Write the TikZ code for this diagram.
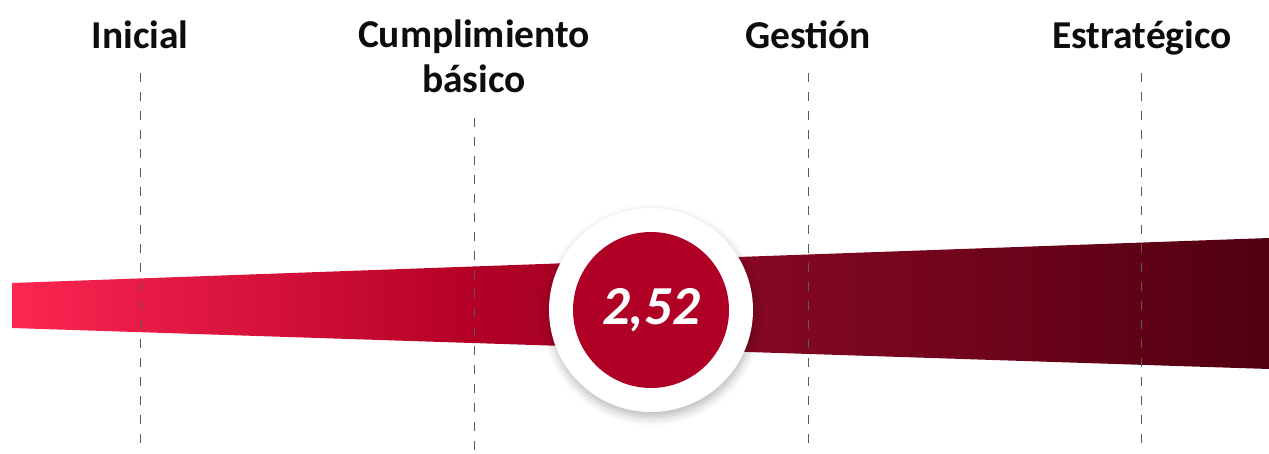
\documentclass[tikz,border=0pt]{standalone}
\usepackage{fontspec}
\setmainfont{Carlito}
\usetikzlibrary{shadows.blur}
\definecolor{valred}{RGB}{177,0,38}
\definecolor{dashgray}{RGB}{90,90,90}
\pgfdeclarehorizontalshading{bandshade}{100bp}{rgb(0bp)=(0.988,0.149,0.322); rgb(25bp)=(0.988,0.149,0.322); rgb(43.5bp)=(0.706,0,0.149); rgb(54bp)=(0.525,0.031,0.133); rgb(75bp)=(0.322,0,0.071); rgb(100bp)=(0.322,0,0.071)}
\tikzset{
  lvl/.style={font=\fontsize{39.5}{45}\selectfont\bfseries, text=black!95, inner sep=0pt, align=center},
  guide/.style={draw=dashgray, line width=0.9pt, dash pattern=on 9pt off 10pt},
  ring/.style={circle, fill=white, minimum size=204pt, inner sep=0pt,
    blur shadow={shadow xshift=1pt, shadow yshift=-5pt, shadow blur radius=9pt, shadow opacity=28}},
  valdot/.style={circle, fill=valred, minimum size=156pt, inner sep=0pt, text=white,
    font=\fontsize{55}{60}\selectfont\bfseries\itshape}
}
\begin{document}
\begin{tikzpicture}[x=1pt,y=-1pt]
\useasboundingbox (0,0) rectangle (1269,454);
% band
\shade[shading=bandshade] (12,283) -- (1269,238) -- (1269,369) -- (12,328) -- cycle;
% labels
\node[lvl, anchor=base] (ini) at (140,49) {Inicial};
\node[lvl, anchor=base] (cum) at (474,93) {Cumplimiento\\básico};
\node[lvl, anchor=base] (ges) at (808,49) {Gestión};
\node[lvl, anchor=base] (est) at (1142,49) {Estratégico};
% guide coordinates
\coordinate (ini1) at (140,73);  \coordinate (ini2) at (140,449);
\coordinate (cum1) at (474,118); \coordinate (cum2) at (474,454);
\coordinate (ges1) at (808,73);  \coordinate (ges2) at (808,449);
\coordinate (est1) at (1141,73); \coordinate (est2) at (1141,449);
\draw[guide] (ini1) -- (ini2);
\draw[guide] (cum1) -- (cum2);
\draw[guide] (ges1) -- (ges2);
\draw[guide] (est1) -- (est2);
% value circle
\node[ring] (ring) at (651,310) {};
\node[valdot] (val) at (651,310) {\raisebox{-2pt}{2,52}};
\end{tikzpicture}
\end{document}
